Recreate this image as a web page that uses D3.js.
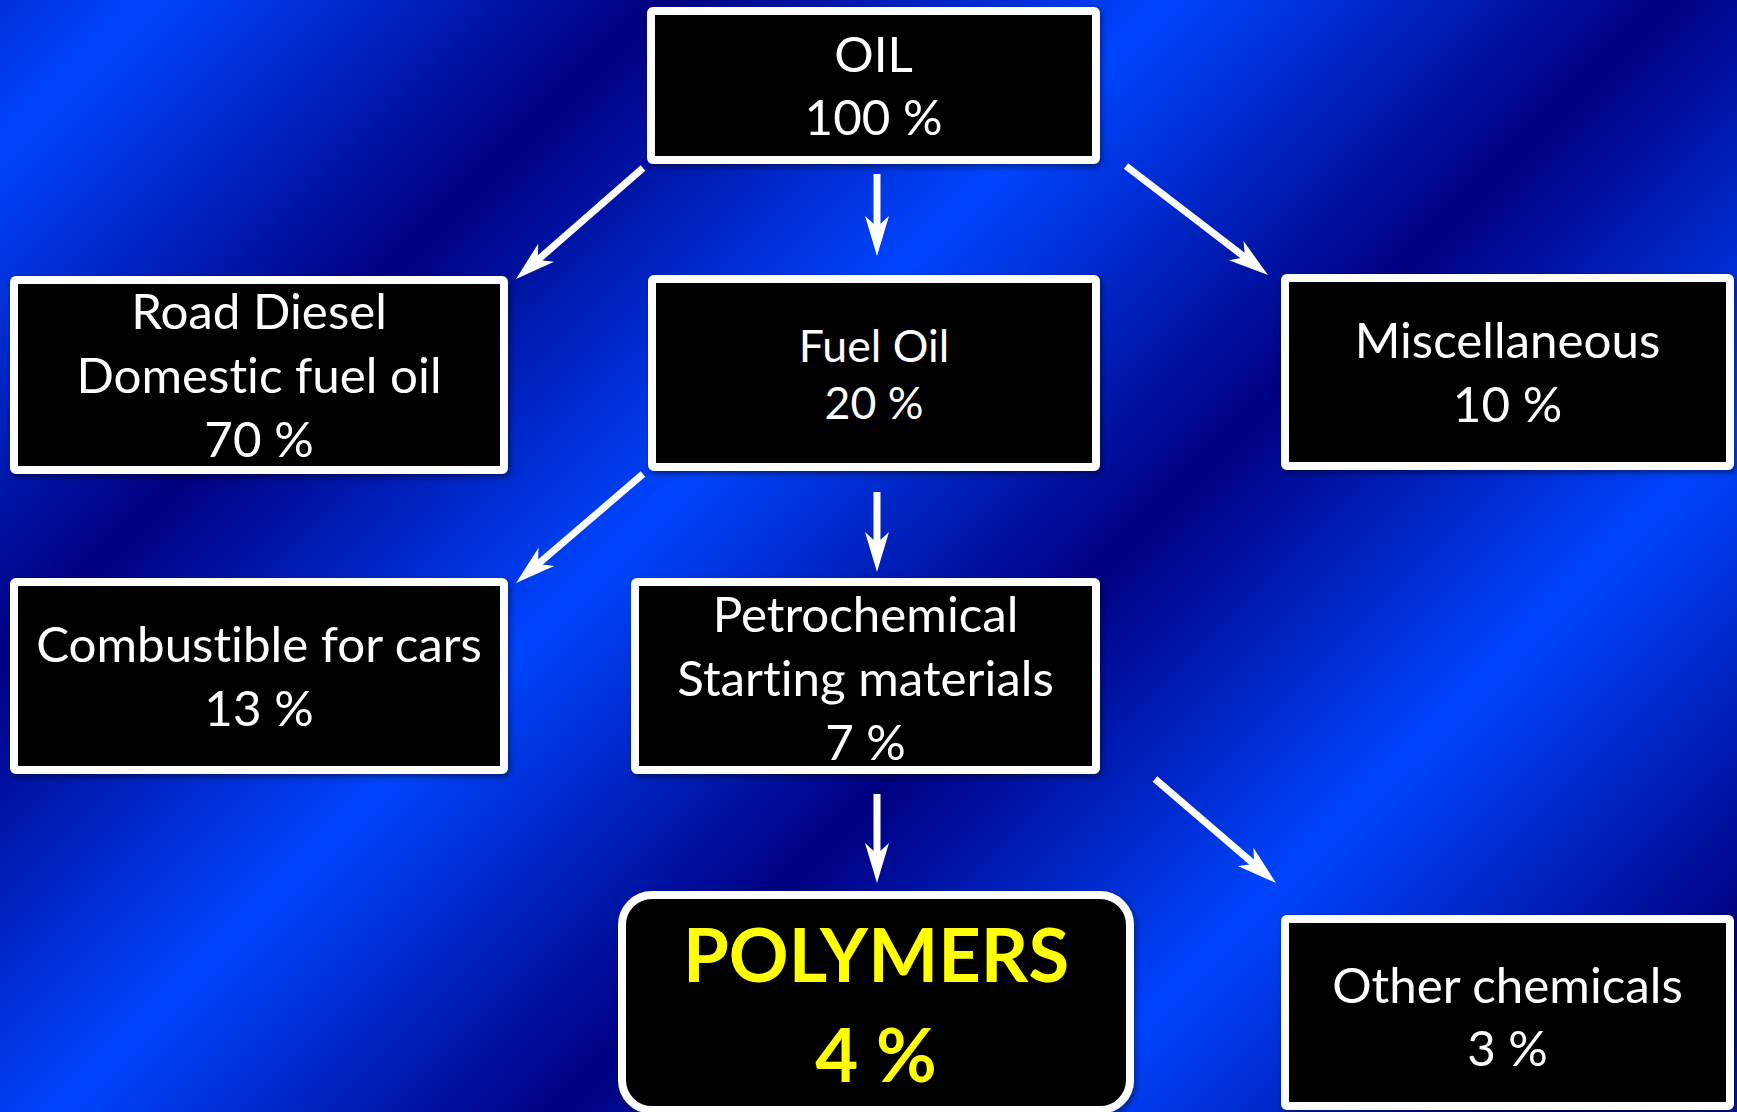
<!DOCTYPE html>
<html>
<head>
<meta charset="utf-8">
<script src="https://cdn.jsdelivr.net/npm/d3@7"></script>
<style>
  html, body { margin: 0; padding: 0; overflow: hidden; background: #000080; }
  svg { display: block; }
  text { font-variant-ligatures: none; font-feature-settings: "liga" 0, "dlig" 0, "clig" 0; }
</style>
</head>
<body>
<svg id="chart" width="1737" height="1112"></svg>
<script>
// ---------------- DATA ----------------
const nodeLabels = [
  ["OIL"],
  ["Road Diesel", "Domestic fuel oil"],
  ["Fuel Oil"],
  ["Miscellaneous"],
  ["Combustible for cars"],
  ["Petrochemical", "Starting materials"],
  ["POLYMERS"],
  ["Other chemicals"]
];
const nodeShares = [100, 70, 20, 10, 13, 7, 4, 3];
const linkSource = [0, 0, 0, 2, 2, 5, 5];
const linkTarget = [1, 2, 3, 4, 5, 6, 7];
const highlighted = [false, false, false, false, false, false, true, false];

// ---------------- LAYOUT (outer box edges: left, top, right, bottom) ----------------
const boxLayout = [
  [647, 7, 1100, 164],
  [10, 276, 508, 474],
  [648, 275, 1100, 471],
  [1281, 274, 1734, 470],
  [10, 578, 508, 774],
  [631, 578, 1100, 774],
  [618, 891, 1134, 1114],
  [1281, 915, 1734, 1110]
];
const fontSizeCal = [53, 53, 48, 53, 53, 53, 83, 53];
const textShift = [0, 0, 1, 0, 0, 2, 1, 4];
// arrow start / end points
const arrowLayout = [
  [643, 168, 516, 279],
  [877, 174, 877, 256],
  [1126, 166, 1268, 275],
  [643, 474, 516, 583],
  [877, 492, 877, 572],
  [877, 794, 877, 883],
  [1155, 779, 1276, 883]
];

const W = 1737, H = 1112;
const svg = d3.select("#chart");
const defs = svg.append("defs");

// ---------------- Background gradient (diagonal bands) ----------------
const dark = "#000080", bright = "#0045ff";
const mix = d3.interpolateRgb(dark, bright);
const S = W + H; // x + y span
const bandStops = [
  [0, mix(0.70)],
  [150, bright], [660, dark], [1170, bright], [1670, dark], [2165, bright], [2670, dark],
  [S, mix(0.36)]
];
const grad = defs.append("linearGradient")
  .attr("id", "bg").attr("gradientUnits", "userSpaceOnUse")
  .attr("x1", 0).attr("y1", 0).attr("x2", S / 2).attr("y2", S / 2);
grad.selectAll("stop").data(bandStops).join("stop")
  .attr("offset", d => d[0] / S)
  .attr("stop-color", d => d[1]);

svg.append("rect").attr("width", W).attr("height", H).attr("fill", "url(#bg)");

const shadow = defs.append("filter").attr("id", "shadow")
  .attr("x", "-5%").attr("y", "-5%").attr("width", "110%").attr("height", "115%");
shadow.append("feDropShadow").attr("dx", 2).attr("dy", 3).attr("stdDeviation", 3)
  .attr("flood-color", "#000").attr("flood-opacity", 0.45);

// ---------------- Arrows ----------------
const headLen = 40, headHalf = 12, notch = 11;
const arrowG = svg.append("g").attr("class", "arrows");
const arrows = arrowG.selectAll("g").data(linkSource.map((s, i) => ({ s, t: linkTarget[i], p: arrowLayout[i] })))
  .join("g")
  .attr("transform", d => {
    const [x1, y1, x2, y2] = d.p;
    const ang = Math.atan2(y2 - y1, x2 - x1) * 180 / Math.PI;
    return `translate(${x1},${y1}) rotate(${ang})`;
  });
arrows.append("line")
  .attr("x1", 0).attr("y1", 0)
  .attr("x2", d => Math.hypot(d.p[2] - d.p[0], d.p[3] - d.p[1]) - headLen + notch + 2)
  .attr("y2", 0)
  .attr("stroke", "#fff").attr("stroke-width", 7);
arrows.append("path")
  .attr("fill", "#fff")
  .attr("d", d => {
    const L = Math.hypot(d.p[2] - d.p[0], d.p[3] - d.p[1]);
    return d3.line()([[L, 0], [L - headLen, -headHalf], [L - headLen + notch, 0], [L - headLen, headHalf]]) + "Z";
  });

// ---------------- Boxes ----------------
const sw = 8;
const nodes = nodeLabels.map((lab, i) => ({
  lines: lab.concat([nodeShares[i] + " %"]),
  box: boxLayout[i],
  fs: fontSizeCal[i],
  shift: textShift[i],
  hi: highlighted[i]
}));

const nodeG = svg.append("g").selectAll("g").data(nodes).join("g");
nodeG.append("rect")
  .attr("x", d => d.box[0] + sw / 2)
  .attr("y", d => d.box[1] + sw / 2)
  .attr("width", d => d.box[2] - d.box[0] - sw)
  .attr("height", d => d.box[3] - d.box[1] - sw)
  .attr("rx", d => d.hi ? 30 : 2)
  .attr("fill", "#000")
  .attr("stroke", "#fff")
  .attr("stroke-width", sw)
  .attr("filter", "url(#shadow)");

const latoScale = 0.93;
nodeG.each(function(d) {
  const g = d3.select(this);
  const cx = (d.box[0] + d.box[2]) / 2;
  const cy = (d.box[1] + d.box[3]) / 2 + d.shift;
  const lh = d.fs * 1.2;
  const n = d.lines.length;
  g.selectAll("text").data(d.lines).join("text")
    .attr("x", cx)
    .attr("y", (t, i) => cy + (i - (n - 1) / 2) * lh + d.fs * 0.34)
    .attr("text-anchor", "middle")
    .attr("font-family", "Lato, 'Open Sans', sans-serif")
    .attr("font-weight", d.hi ? 700 : 400)
    .attr("font-size", d.fs * latoScale * (d.hi ? 0.96 : 1))
    .attr("fill", d.hi ? "#ffff00" : "#fff")
    .text(t => t);
});
</script>
</body>
</html>
